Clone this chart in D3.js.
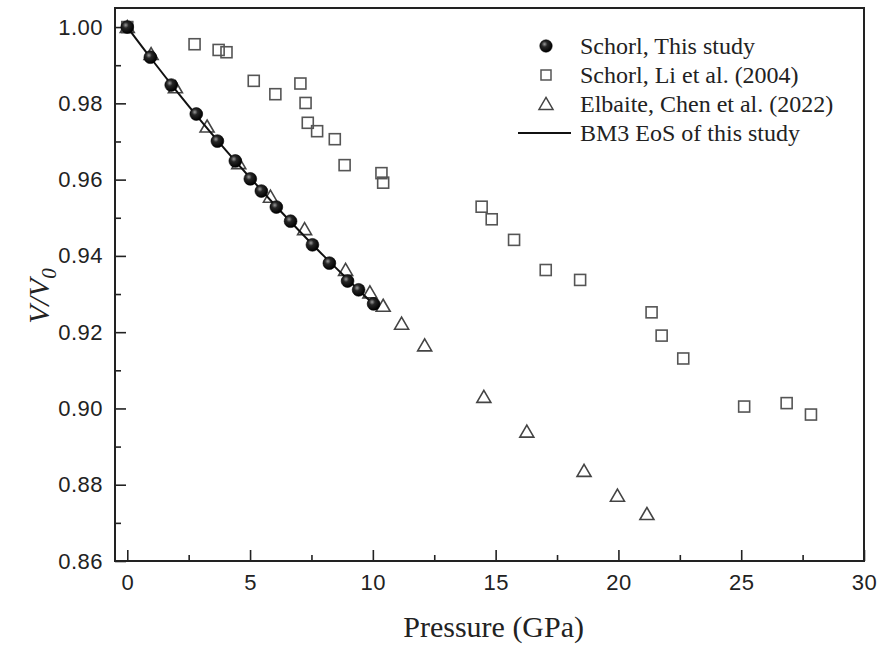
<!DOCTYPE html>
<html>
<head>
<meta charset="utf-8">
<script src="https://cdn.jsdelivr.net/npm/d3@7"></script>
<style>
  body { margin: 0; background: #fff; }
  svg { display: block; }
</style>
</head>
<body>
<div id="chart"></div>
<script>
// Schorl, this study (pressure GPa, V/V0)
const schorlP = [0, 0.94, 1.79, 2.81, 3.67, 4.40, 5.01, 5.46, 6.07, 6.65, 7.54, 8.23, 8.97, 9.42, 10.03];
const schorlV = [1.000, 0.9921, 0.9848, 0.9772, 0.9701, 0.9649, 0.9602, 0.9570, 0.9528, 0.9491, 0.9429, 0.9381, 0.9334, 0.9311, 0.9274];

// Schorl, Li et al. (2004)
const liP = [0, 2.74, 3.72, 4.04, 5.15, 6.03, 7.05, 7.26, 7.35, 7.73, 8.45, 8.85, 10.35, 10.42, 14.43, 14.84, 15.75, 17.04, 18.44, 21.35, 21.76, 22.64, 25.12, 26.85, 27.84];
const liV = [1.000, 0.9955, 0.9940, 0.9934, 0.9859, 0.9824, 0.9852, 0.9801, 0.9749, 0.9727, 0.9706, 0.9638, 0.9617, 0.9592, 0.9529, 0.9496, 0.9442, 0.9363, 0.9337, 0.9252, 0.9191, 0.9131, 0.9005, 0.9014, 0.8984];

// Elbaite, Chen et al. (2022)
const chenP = [0, 0.97, 1.96, 3.25, 4.54, 5.83, 7.22, 8.89, 9.88, 10.42, 11.17, 12.11, 14.52, 16.27, 18.60, 19.96, 21.16];
const chenV = [1.000, 0.9929, 0.9842, 0.9739, 0.9643, 0.9555, 0.9470, 0.9363, 0.9304, 0.9269, 0.9222, 0.9165, 0.9030, 0.8939, 0.8836, 0.8771, 0.8723];

// BM3 EoS curve
const eosP = [0, 1, 2, 3, 4, 5, 6, 7, 8, 9, 10, 10.2];
const eosV = [1.000, 0.9915, 0.9833, 0.9754, 0.9678, 0.9605, 0.9534, 0.9466, 0.9400, 0.9337, 0.9275, 0.9263];

const xTicks = [0, 5, 10, 15, 20, 25, 30];
const xMinor = [2.5, 7.5, 12.5, 17.5, 22.5, 27.5];
const yTicks = [0.86, 0.88, 0.90, 0.92, 0.94, 0.96, 0.98, 1.00];
const yMinor = [0.87, 0.89, 0.91, 0.93, 0.95, 0.97, 0.99];

const legendLabels = ["Schorl, This study", "Schorl, Li et al. (2004)", "Elbaite, Chen et al. (2022)", "BM3 EoS of this study"];

const width = 882, height = 647;
const margin = {top: 8, right: 18, bottom: 86, left: 115};

const svg = d3.select("#chart").append("svg")
    .attr("width", width)
    .attr("height", height);

const defs = svg.append("defs");
const grad = defs.append("radialGradient")
    .attr("id", "ball")
    .attr("cx", "38%").attr("cy", "35%").attr("r", "65%");
grad.append("stop").attr("offset", "0%").attr("stop-color", "#9a9a9a");
grad.append("stop").attr("offset", "35%").attr("stop-color", "#262626");
grad.append("stop").attr("offset", "100%").attr("stop-color", "#000");

const x = d3.scaleLinear().domain([-0.5, 30]).range([margin.left, width - margin.right]);
const y = d3.scaleLinear().domain([0.86, 1.005]).range([height - margin.bottom, margin.top]);

const axisColor = "#222";

// x axis (ticks pointing inward)
const gx = svg.append("g")
    .attr("transform", `translate(0,${height - margin.bottom})`)
    .call(d3.axisBottom(x).tickValues(xTicks).tickSize(-11).tickPadding(13).tickFormat(d3.format("d")));
gx.append("g")
    .call(d3.axisBottom(x).tickValues(xMinor).tickSize(-6).tickFormat(""));

// y axis
const gy = svg.append("g")
    .attr("transform", `translate(${margin.left},0)`)
    .call(d3.axisLeft(y).tickValues(yTicks).tickSize(-11).tickPadding(12).tickFormat(d3.format(".2f")));
gy.append("g")
    .call(d3.axisLeft(y).tickValues(yMinor).tickSize(-6).tickFormat(""));

svg.selectAll(".domain").remove();
svg.selectAll(".tick line").attr("stroke", axisColor).attr("stroke-width", 1.6);
svg.selectAll(".tick text")
    .attr("fill", "#222")
    .style("font-family", "'Liberation Sans', Arial, sans-serif")
    .style("font-size", "22px")
    .style("letter-spacing", "0.5px");
gx.selectAll(".tick text").attr("dy", "0.71em");

// frame
svg.append("rect")
    .attr("x", margin.left)
    .attr("y", margin.top)
    .attr("width", width - margin.left - margin.right)
    .attr("height", height - margin.top - margin.bottom)
    .attr("fill", "none")
    .attr("stroke", axisColor)
    .attr("stroke-width", 2);

// axis titles
svg.append("text")
    .attr("x", x(15) - 2)
    .attr("y", 637)
    .attr("text-anchor", "middle")
    .style("font-family", "'Liberation Serif', 'Times New Roman', serif")
    .style("font-size", "30px")
    .attr("fill", "#222")
    .text("Pressure (GPa)");

const yTitle = svg.append("text")
    .attr("transform", `translate(49,${y(0.93) + 2}) rotate(-90)`)
    .attr("text-anchor", "middle")
    .style("font-family", "'Liberation Serif', 'Times New Roman', serif")
    .style("font-size", "30px")
    .style("font-style", "italic")
    .attr("fill", "#222");
yTitle.append("tspan").text("V/V");
yTitle.append("tspan").attr("dy", 7).style("font-size", "21px").text("0");

// marker helpers
const sqSize = 11;
const triPath = (cx, cy) => {
    const w = 14, h = 12;
    return `M${cx},${cy - h * 0.55}L${cx + w / 2},${cy + h * 0.45}L${cx - w / 2},${cy + h * 0.45}Z`;
};

const plot = svg.append("g");

// Li et al. squares
plot.append("g").selectAll("rect")
    .data(d3.zip(liP, liV))
    .join("rect")
    .attr("x", d => x(d[0]) - sqSize / 2)
    .attr("y", d => y(d[1]) - sqSize / 2)
    .attr("width", sqSize)
    .attr("height", sqSize)
    .attr("fill", "none")
    .attr("stroke", "#555")
    .attr("stroke-width", 1.6);

// Chen et al. triangles
plot.append("g").selectAll("path")
    .data(d3.zip(chenP, chenV))
    .join("path")
    .attr("d", d => triPath(x(d[0]), y(d[1])))
    .attr("fill", "none")
    .attr("stroke", "#444")
    .attr("stroke-width", 1.6);

// EoS line
plot.append("path")
    .datum(d3.zip(eosP, eosV))
    .attr("d", d3.line().x(d => x(d[0])).y(d => y(d[1])).curve(d3.curveMonotoneX))
    .attr("fill", "none")
    .attr("stroke", "#111")
    .attr("stroke-width", 2);

// this study: filled spheres
plot.append("g").selectAll("circle")
    .data(d3.zip(schorlP, schorlV))
    .join("circle")
    .attr("cx", d => x(d[0]))
    .attr("cy", d => y(d[1]))
    .attr("r", 6.4)
    .attr("fill", "url(#ball)")
    .attr("stroke", "#000")
    .attr("stroke-width", 0.6);

// legend
const legend = svg.append("g");
const legX = 546, legY0 = 46, legDy = 29;
legendLabels.forEach((lab, i) => {
    const ly = legY0 + i * legDy;
    if (i === 0) {
        legend.append("circle").attr("cx", legX).attr("cy", ly).attr("r", 6.2)
            .attr("fill", "url(#ball)").attr("stroke", "#000").attr("stroke-width", 0.6);
    } else if (i === 1) {
        legend.append("rect").attr("x", legX - 5).attr("y", ly - 5).attr("width", 10).attr("height", 10)
            .attr("fill", "none").attr("stroke", "#555").attr("stroke-width", 1.5);
    } else if (i === 2) {
        legend.append("path").attr("d", triPath(legX, ly))
            .attr("fill", "none").attr("stroke", "#444").attr("stroke-width", 1.5);
    } else {
        legend.append("line").attr("x1", 518).attr("x2", 571).attr("y1", ly).attr("y2", ly)
            .attr("stroke", "#111").attr("stroke-width", 2);
    }
    legend.append("text")
        .attr("x", 580)
        .attr("y", ly)
        .attr("dy", "0.35em")
        .style("font-family", "'Liberation Serif', 'Times New Roman', serif")
        .style("font-size", "24px")
        .attr("fill", "#222")
        .text(lab);
});
</script>
</body>
</html>
